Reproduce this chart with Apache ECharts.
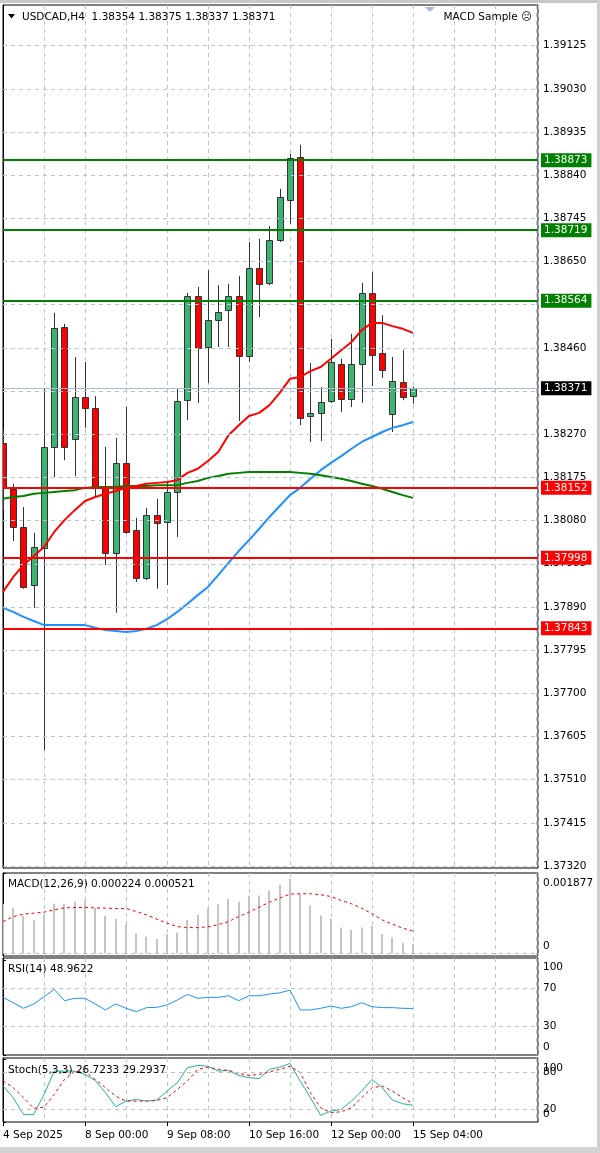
<!DOCTYPE html>
<html><head><meta charset="utf-8">
<script src="https://cdn.jsdelivr.net/npm/echarts@6/dist/echarts.min.js"></script>
<style>html,body{margin:0;padding:0;background:#fff}#c{width:600px;height:1153px}</style>
</head><body><div id="c"></div>
<script>
// ---- data (H4 bars, 4 Sep 2025 16:00 -> 15 Sep) ----
const opens  = [1.38251,1.38150,1.38066,1.37938,1.38020,1.38242,1.38506,1.38260,1.38352,1.38328,1.38152,1.38009,1.38207,1.38059,1.37954,1.38092,1.38077,1.38143,1.38345,1.38574,1.38462,1.38521,1.38543,1.38574,1.38442,1.38636,1.38603,1.38698,1.38786,1.38880,1.38310,1.38317,1.38343,1.38425,1.38348,1.38425,1.38581,1.38449,1.38315,1.38385,1.38354];
const highs  = [1.38282,1.38161,1.38110,1.38053,1.38372,1.38537,1.38513,1.38440,1.38429,1.38354,1.38242,1.38262,1.38330,1.38086,1.38108,1.38128,1.38165,1.38370,1.38581,1.38594,1.38631,1.38598,1.38601,1.38618,1.38693,1.38700,1.38728,1.38810,1.38887,1.38907,1.38427,1.38374,1.38480,1.38436,1.38491,1.38603,1.38627,1.38532,1.38440,1.38455,1.38375];
const lows   = [1.38103,1.38035,1.37930,1.37888,1.37575,1.38174,1.38213,1.38178,1.38284,1.38132,1.37982,1.37877,1.38051,1.37945,1.37949,1.37930,1.37938,1.38044,1.38301,1.38339,1.38383,1.38462,1.38462,1.38299,1.38429,1.38528,1.38598,1.38693,1.38733,1.38290,1.38253,1.38255,1.38339,1.38319,1.38330,1.38339,1.38376,1.38394,1.38275,1.38345,1.38337];
const closes = [1.38152,1.38066,1.37934,1.38022,1.38242,1.38504,1.38242,1.38352,1.38328,1.38152,1.38009,1.38207,1.38055,1.37954,1.38092,1.38075,1.38143,1.38343,1.38574,1.38460,1.38521,1.38539,1.38574,1.38442,1.38636,1.38601,1.38698,1.38792,1.38878,1.38306,1.38317,1.38341,1.38429,1.38348,1.38425,1.38581,1.38444,1.38411,1.38387,1.38352,1.38371];
const maRed   = [1.37923,1.37956,1.37982,1.38002,1.38022,1.38055,1.38081,1.38103,1.38123,1.38132,1.38139,1.38145,1.38152,1.38156,1.38161,1.38163,1.38165,1.38169,1.38185,1.38194,1.38211,1.38231,1.38268,1.38290,1.38310,1.38317,1.38334,1.38361,1.38392,1.38396,1.38409,1.38418,1.38436,1.38455,1.38473,1.38499,1.38515,1.38515,1.38508,1.38502,1.38493];
const maGreen = [1.38128,1.38132,1.38134,1.38139,1.38141,1.38143,1.38145,1.38147,1.38152,1.38154,1.38154,1.38154,1.38156,1.38156,1.38156,1.38158,1.38158,1.38158,1.38163,1.38167,1.38174,1.38178,1.38183,1.38185,1.38187,1.38187,1.38187,1.38187,1.38187,1.38185,1.38183,1.38180,1.38176,1.38172,1.38167,1.38161,1.38156,1.38150,1.38143,1.38136,1.38130];
const maBlue  = [1.37888,1.37879,1.37868,1.37859,1.37850,1.37850,1.37850,1.37850,1.37850,1.37844,1.37839,1.37837,1.37835,1.37837,1.37842,1.37850,1.37863,1.37879,1.37897,1.37916,1.37934,1.37960,1.37987,1.38013,1.38037,1.38062,1.38088,1.38112,1.38136,1.38152,1.38172,1.38191,1.38207,1.38222,1.38238,1.38253,1.38264,1.38275,1.38284,1.38290,1.38297];
const macdHist   = [0.001150,0.001056,0.000875,0.000781,0.000882,0.001157,0.001150,0.001211,0.001234,0.001056,0.000875,0.000805,0.000664,0.000460,0.000389,0.000335,0.000446,0.000483,0.000781,0.000899,0.001056,0.001150,0.001267,0.001203,0.001344,0.001351,0.001469,0.001602,0.001743,0.001384,0.001117,0.000882,0.000805,0.000601,0.000547,0.000601,0.000640,0.000453,0.000366,0.000249,0.000224];
const macdSignal = [0.000741,0.000859,0.000915,0.000938,0.000962,0.001016,0.001063,0.001070,0.001070,0.001063,0.001056,0.001046,0.001046,0.000976,0.000899,0.000798,0.000704,0.000624,0.000601,0.000601,0.000617,0.000671,0.000741,0.000859,0.000962,0.001079,0.001196,0.001290,0.001384,0.001391,0.001391,0.001368,0.001328,0.001234,0.001157,0.001056,0.000922,0.000781,0.000680,0.000587,0.000521];
const rsi    = [60.6,55.0,49.1,53.6,61.3,69.0,57.1,59.6,59.6,53.6,47.4,53.6,49.1,45.6,49.8,50.1,52.6,57.8,63.8,59.6,60.6,60.6,62.3,57.1,62.3,62.3,64.1,65.4,68.2,47.4,47.4,49.1,51.5,49.1,50.8,55.0,50.8,49.8,49.8,49.1,48.96];
const stochK = [57.2,38.7,12.1,12.1,44.0,81.1,81.1,81.1,75.8,66.2,46.7,24.4,33.3,36.0,33.3,34.9,49.2,62.6,86.5,90.1,89.0,81.1,82.2,74.2,70.5,69.4,83.8,87.4,93.3,65.1,38.7,10.5,17.4,20.1,33.3,49.2,67.8,54.6,34.9,29.1,26.72];
const stochD = [65.7,54.6,38.7,21.7,23.7,44.0,67.8,81.1,80.0,67.8,54.6,41.2,33.3,33.3,33.3,34.4,38.7,51.9,65.7,83.8,87.4,83.8,82.2,77.4,74.2,75.8,80.0,83.8,89.0,78.5,46.7,22.8,14.8,16.4,22.8,38.7,54.6,57.2,49.2,38.7,29.29];
const greenLevels = [1.38873,1.38719,1.38564];
const redLevels   = [1.38152,1.37998,1.37843];
const lastPrice = 1.38371;
const priceTicks = [1.37320,1.37415,1.37510,1.37605,1.37700,1.37795,1.37890,1.37985,1.38080,1.38175,1.38270,1.38365,1.38460,1.38555,1.38650,1.38745,1.38840,1.38935,1.39030,1.39125];
const macdTicks = [0, 0.001877];
const macdTickLabels = ['0', '0.001877'];
const rsiTicks = [0, 30, 70, 100];
const stochTicks = [0, 20, 80, 100];
const xTickIdx = [0,8,16,24,32,40];
const xTickLabels = ['4 Sep 2025','8 Sep 00:00','9 Sep 08:00','10 Sep 16:00','12 Sep 00:00','15 Sep 04:00'];
const titleText = 'USDCAD,H4  1.38354 1.38375 1.38337 1.38371';
const macdText = 'MACD(12,26,9) 0.000224 0.000521';
const rsiText = 'RSI(14) 48.9622';
const stochText = 'Stoch(5,3,3) 26.7233 29.2937';

// ---- chart ----
const FF = '"DejaVu Sans"';
const FS = 10.5;
const X_MAX = 52.2;
const GRID_C = '#b4c4da';
const chart = echarts.init(document.getElementById('c'), null, {renderer:'canvas'});
const pairs = a => a.map((v,i)=>[i,v]);

const grids = [
  {left:3, width:535, top:5, height:863},
  {left:3, width:535, top:873, height:83},
  {left:3, width:535, top:958, height:97},
  {left:3, width:535, top:1058, height:64}
].map(g => Object.assign(g, {show:true, borderColor:'#000', borderWidth:1, backgroundColor:'#fff', containLabel:false}));

function gridX(i){
  return {type:'value', gridIndex:i, min:0, max:X_MAX, interval:4, position:'top',
    axisLine:{show:false}, axisTick:{show:false}, axisLabel:{show:false},
    splitLine:{show:true, lineStyle:{color:GRID_C, type:[4,4], width:1}}};
}
const xAxes = [gridX(0), gridX(1), gridX(2), gridX(3),
  {type:'value', gridIndex:3, min:0, max:X_MAX, position:'bottom',
   axisLine:{show:false}, splitLine:{show:false},
   axisTick:{show:true, customValues:xTickIdx, length:4, lineStyle:{color:'#000'}},
   axisLabel:{show:true, customValues:xTickIdx, formatter:v=>xTickLabels[xTickIdx.indexOf(v)] || '',
     align:'left', margin:8, color:'#000', fontSize:FS, fontFamily:FF}}
];

function subY(i, min, max, ticks){
  return {type:'value', gridIndex:i, min:min, max:max, position:'right',
    axisLine:{show:true, lineStyle:{color:'#000'}},
    axisTick:{show:true, customValues:ticks, length:3, lineStyle:{color:'#000'}},
    axisLabel:{show:false}, splitLine:{show:false}};
}
const yAxes = [
  {type:'value', gridIndex:0, min:1.373155, max:1.392146, position:'right',
   axisLine:{show:true, lineStyle:{color:'#000'}},
   axisTick:{show:true, customValues:priceTicks, length:3, lineStyle:{color:'#000'}},
   axisLabel:{show:true, customValues:priceTicks, formatter:v=>v.toFixed(5), margin:5, color:'#000', fontSize:FS, fontFamily:FF},
   splitLine:{show:false}},
  subY(1, -0.0000633, macdTicks[1], macdTicks),
  subY(2, 0, 102, rsiTicks),
  subY(3, 0, 102, stochTicks)
];

function levelItem(v, color, bg, w){
  return {yAxis:v, lineStyle:{color:color, width:w, type:'solid'},
    label:{show:true, position:'end', distance:3, formatter:v.toFixed(5), color:'#fff', backgroundColor:bg,
      padding:[2,4,1,3], fontSize:FS, fontFamily:FF}};
}
function dashLines(vals, color){
  return {symbol:'none', silent:true, animation:false, precision:8, label:{show:false},
    lineStyle:{color:color, type:[4,4], width:1},
    data: vals.map(v=>({yAxis:v}))};
}

const series = [
  {type:'line', xAxisIndex:0, yAxisIndex:0, data:pairs(closes), symbol:'none', lineStyle:{opacity:0}, silent:true, z:1,
   markLine: dashLines(priceTicks, GRID_C)},
  {type:'custom', xAxisIndex:0, yAxisIndex:0, z:3, clip:true,
   data: opens.map((o,i)=>[i,o,highs[i],lows[i],closes[i]]),
   encode:{x:0, y:[1,2,3,4]},
   renderItem:function(params, api){
     const i=api.value(0), o=api.value(1), h=api.value(2), l=api.value(3), c=api.value(4);
     const ph=api.coord([i,h]), pl=api.coord([i,l]), po=api.coord([i,o]), pc=api.coord([i,c]);
     const x=Math.round(ph[0])+0.5;
     const top=Math.round(Math.min(po[1],pc[1]))+0.5, bot=Math.round(Math.max(po[1],pc[1]))+0.5;
     const up=c>=o;
     return {type:'group', children:[
       {type:'line', shape:{x1:x,y1:ph[1],x2:x,y2:pl[1]}, style:{stroke:'#333', lineWidth:1}},
       {type:'rect', shape:{x:x-3, y:top, width:6, height:Math.max(bot-top,1)}, style:{fill:up?'#3cb371':'#ff0000', stroke:'#333', lineWidth:1}}
     ]};
   }},
  {type:'line', xAxisIndex:0, yAxisIndex:0, data:pairs(maBlue), symbol:'none', lineStyle:{color:'#1e90ff', width:2}, z:4},
  {type:'line', xAxisIndex:0, yAxisIndex:0, data:pairs(maGreen), symbol:'none', lineStyle:{color:'#008000', width:2}, z:4},
  {type:'line', xAxisIndex:0, yAxisIndex:0, data:pairs(maRed), symbol:'none', lineStyle:{color:'#ff0000', width:2}, z:4},
  {type:'line', xAxisIndex:0, yAxisIndex:0, data:pairs(closes), symbol:'none', lineStyle:{opacity:0}, silent:true, z:5,
   markLine:{symbol:'none', silent:true, animation:false, precision:8,
     data: [levelItem(lastPrice,'#a8b8d0','#000',1)]
       .concat(greenLevels.map(v=>levelItem(v,'#008000','#008000',2)))
       .concat(redLevels.map(v=>levelItem(v,'#ff0000','#ff0000',2)))}},
  {type:'custom', xAxisIndex:1, yAxisIndex:1, z:2, clip:true, data:pairs(macdHist), encode:{x:0,y:1},
   renderItem:function(params, api){
     const i=api.value(0), v=api.value(1);
     const p=api.coord([i,v]), z=api.coord([i,0]);
     const x=Math.round(p[0]);
     return {type:'rect', shape:{x:x-1, y:p[1], width:2, height:z[1]-p[1]}, style:{fill:'#c4c4c4'}};
   }},
  {type:'line', xAxisIndex:1, yAxisIndex:1, data:pairs(macdSignal), symbol:'none', z:3,
   lineStyle:{color:'#ff0000', width:1, type:[3,3]}, markLine: dashLines([0], '#c0c0c0')},
  {type:'line', xAxisIndex:2, yAxisIndex:2, data:pairs(rsi), symbol:'none', z:3,
   lineStyle:{color:'#1e90ff', width:1}, markLine: dashLines([30,70], '#c0c0c0')},
  {type:'line', xAxisIndex:3, yAxisIndex:3, data:pairs(stochK), symbol:'none', z:3,
   lineStyle:{color:'#20b2aa', width:1}, markLine: dashLines([20,80], '#c0c0c0')},
  {type:'line', xAxisIndex:3, yAxisIndex:3, data:pairs(stochD), symbol:'none', z:4,
   lineStyle:{color:'#ff0000', width:1, type:[3,3]}}
];

const txt = (x,y,t,align) => ({type:'text', z:100, style:{x:x, y:y, text:t, fill:'#000', font:FS+'px '+FF, align:align||'left', verticalAlign:'middle'}});
const graphic = [
  {type:'rect', z:100, shape:{x:0,y:0,width:600,height:3}, style:{fill:'#c8c8c8'}},
  {type:'rect', z:100, shape:{x:597,y:0,width:3,height:1153}, style:{fill:'#d0d0d0'}},
  {type:'rect', z:100, shape:{x:0,y:1147,width:600,height:6}, style:{fill:'#d4d4d4'}},
  {type:'polygon', z:100, shape:{points:[[8,14],[15,14],[11.5,18.5]]}, style:{fill:'#000'}},
  txt(22,17,titleText),
  {type:'polygon', z:100, shape:{points:[[425,7],[435,7],[430,12]]}, style:{fill:'#a8b8d0'}},
  txt(532,17,'MACD Sample \u2639','right'),
  txt(8,884,macdText),
  txt(8,969,rsiText),
  txt(8,1070,stochText)
];

chart.setOption({
  animation:false,
  backgroundColor:'#fff',
  grid: grids,
  xAxis: xAxes,
  yAxis: yAxes,
  series: series,
  graphic: graphic
});

// right-hand labels of the indicator panes, placed through the axes' own scales;
// top value is drawn just below its tick, zero just above it (as the terminal does)
function paneLabels(gridIndex, ticks, labels, topShift, botShift){
  const lo = Math.min.apply(null, ticks), hi = Math.max.apply(null, ticks);
  return ticks.map((v,k) => {
    const y = chart.convertToPixel({gridIndex:gridIndex}, [0, v])[1];
    const dy = v === hi ? topShift : (v === lo ? botShift : 0);
    return txt(543, y + dy, labels[k]);
  });
}
const extra = []
  .concat(paneLabels(1, macdTicks, macdTickLabels, 10, -7))
  .concat(paneLabels(2, rsiTicks, rsiTicks.map(String), 7, -8))
  .concat(paneLabels(3, stochTicks, stochTicks.map(String), 9, -8));
chart.setOption({graphic: graphic.concat(extra)});
</script>
</body></html>
